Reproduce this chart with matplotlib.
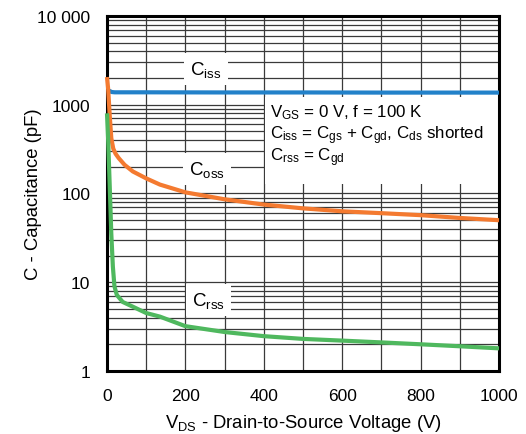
import numpy as np
import matplotlib.pyplot as plt
from matplotlib.patches import Rectangle
from matplotlib.ticker import FixedLocator, NullFormatter

plt.rcParams['font.family'] = ['Liberation Sans', 'DejaVu Sans']
plt.rcParams['mathtext.fontset'] = 'custom'
plt.rcParams['mathtext.rm'] = 'Liberation Sans'
plt.rcParams['mathtext.it'] = 'Liberation Sans'
plt.rcParams['mathtext.default'] = 'rm'

# capacitance vs drain-source voltage (V, pF)
v_iss = [0, 3, 8, 12, 20, 100, 300, 500, 700, 1000]
c_iss = [1450, 1450, 1420, 1390, 1380, 1380, 1375, 1375, 1370, 1370]

v_oss = [0, 3, 7, 11, 16, 22, 30, 45, 66, 100, 135, 200, 300, 400, 500, 600, 700, 800, 900, 1000]
c_oss = [2050, 1500, 750, 420, 320, 280, 250, 210, 177, 148, 126, 103, 86, 75, 68, 63, 60, 57, 53, 50]

v_rss = [0, 3, 7, 11, 15, 19, 25, 40, 66, 100, 135, 200, 300, 400, 500, 600, 700, 800, 900, 1000]
c_rss = [800, 400, 120, 35, 15, 9, 7.2, 6.0, 5.3, 4.5, 4.1, 3.2, 2.75, 2.47, 2.3, 2.2, 2.1, 2.0, 1.9, 1.8]

x_ticks = [0, 200, 400, 600, 800, 1000]
y_ticks = [1, 10, 100, 1000, 10000]
y_tick_labels = ['1', '10', '100', '1000', '10 000']

fig = plt.figure(figsize=(5.26, 4.35), dpi=100)
ax = fig.add_axes([0.2034, 0.1448, 0.7453, 0.8162])

ax.set_yscale('log')
ax.set_xlim(0, 1000)
ax.set_ylim(1, 10000)

# grid: every 100 V, every minor decade step
ax.xaxis.set_minor_locator(FixedLocator(np.arange(100, 1000, 100)))
minor_y = [m * 10.0 ** d for d in range(0, 4) for m in range(2, 10)]
ax.yaxis.set_minor_locator(FixedLocator(minor_y))
ax.yaxis.set_minor_formatter(NullFormatter())
ax.grid(True, which='both', color='#3a3a3a', linewidth=0.9)
ax.set_axisbelow(True)

for v, c, col in [(v_iss, c_iss, '#2281c9'), (v_oss, c_oss, '#f47a30'), (v_rss, c_rss, '#4fb85e')]:
    ax.plot(v, c, color=col, linewidth=3, solid_capstyle='butt', zorder=6, clip_on=False)

box = dict(facecolor='white', edgecolor='none', pad=4.5)
ax.text(252, 2540, r'C$_{\rm iss}$', fontsize=13.5, ha='center', va='center', bbox=box, zorder=4)
ax.text(255, 190, r'C$_{\rm oss}$', fontsize=13.5, ha='center', va='center', bbox=box, zorder=4)
ax.text(258, 6.3, r'C$_{\rm rss}$', fontsize=13.5, ha='center', va='center', bbox=box, zorder=4)

# test conditions, on a white panel
ax.add_patch(Rectangle((0.403, 0.527), 0.597, 0.245, transform=ax.transAxes,
                       facecolor='white', edgecolor='none', zorder=4))
notes = ['V$_{\\rm GS}$ = 0 V, f = 100 K',
         'C$_{\\rm iss}$ = C$_{\\rm gs}$ + C$_{\\rm gd}$, C$_{\\rm ds}$ shorted',
         'C$_{\\rm rss}$ = C$_{\\rm gd}$']
for line, y in zip(notes, [0.716, 0.656, 0.594]):
    ax.text(0.416, y, line, transform=ax.transAxes, fontsize=12.2, ha='left',
            va='baseline', zorder=5)

ax.set_xticks(x_ticks)
ax.set_yticks(y_ticks)
ax.set_yticklabels(y_tick_labels)
ax.tick_params(which='both', length=0, labelsize=12.5, pad=12)

for s in ax.spines.values():
    s.set_linewidth(2.2)
    s.set_color('black')
    s.set_zorder(5)

ax.set_xlabel('V$_{\\rm DS}$ - Drain-to-Source Voltage (V)', fontsize=13.3, labelpad=7)
ax.set_ylabel('C - Capacitance (pF)', fontsize=13.3)
ax.yaxis.set_label_coords(-0.165, 0.5)

fig.savefig('out.png', dpi=100)
